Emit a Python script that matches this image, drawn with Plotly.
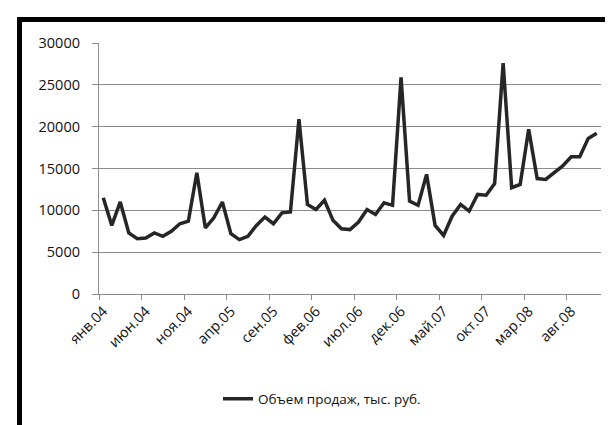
import plotly.graph_objects as go

months = ["янв", "фев", "мар", "апр", "май", "июн", "июл", "авг", "сен", "окт", "ноя", "дек"]
years = ["04", "05", "06", "07", "08"]
categories = [f"{m}.{y}" for y in years for m in months][:59]  # янв.04 .. ноя.08

sales = [
    11500, 8200, 11000, 7300, 6600, 6700, 7300, 6900, 7500, 8400, 8700, 14500,
    7900, 9100, 11000, 7200, 6500, 6900, 8200, 9200, 8400, 9700, 9800, 20900,
    10700, 10100, 11200, 8800, 7800, 7700, 8600, 10100, 9500, 10900, 10600, 25900,
    11100, 10600, 14300, 8200, 7000, 9300, 10700, 9900, 11900, 11800, 13200, 27600,
    12700, 13100, 19700, 13800, 13700, 14500, 15300, 16400, 16400, 18600, 19200,
]
series_name = "Объем продаж, тыс. руб."
y_ticks = [0, 5000, 10000, 15000, 20000, 25000, 30000]
y_tick_labels = [str(v) for v in y_ticks]

W, H = 613, 425
L, R, T, B = 91, 593, 35, 286

def px(x):
    return (x - L) / (R - L)

def py(y):
    return (B - y) / (B - T)

fig = go.Figure()
fig.add_trace(go.Scatter(
    x=categories, y=sales, mode="lines", name=series_name,
    line=dict(color="#262626", width=3.5),
    showlegend=True,
))

font = dict(family="Open Sans, Noto Sans, sans-serif", size=14.5, color="#111111")

fig.update_layout(
    width=W, height=H,
    margin=dict(l=L, r=W - R, t=T, b=H - B, pad=0),
    paper_bgcolor="white", plot_bgcolor="white",
    font=font,
    showlegend=True,
    legend=dict(
        orientation="h", x=px(314), y=py(391), xanchor="center", yanchor="middle",
        font=dict(family="Open Sans, Noto Sans, sans-serif", size=13.5, color="#111111"),
        bgcolor="rgba(0,0,0,0)", itemwidth=30,
    ),
    xaxis=dict(
        type="category", range=[-0.5, 58.5],
        tickmode="linear", tick0=0, dtick=5,
        tickson="boundaries",
        ticks="outside", ticklen=5, tickcolor="#8c8c8c", tickwidth=1,
        showline=True, linecolor="#8c8c8c", linewidth=1.2,
        showgrid=False, tickangle=-45, zeroline=False,
        tickfont=font, ticklabelstandoff=2,
    ),
    yaxis=dict(
        range=[0, 30000], tickvals=y_ticks, ticktext=y_tick_labels,
        ticks="outside", ticklen=6, tickcolor="#8c8c8c", tickwidth=1,
        showline=True, linecolor="#8c8c8c", linewidth=1.2,
        showgrid=True, gridcolor="#8c8c8c", gridwidth=1.2,
        zeroline=False, tickfont=font, ticklabelstandoff=9,
    ),
    shapes=[
        dict(type="rect", xref="paper", yref="paper",
             x0=px(9), x1=px(W + 2), y0=py(14), y1=py(9),
             fillcolor="black", line=dict(width=0), layer="above"),
        dict(type="rect", xref="paper", yref="paper",
             x0=px(9), x1=px(14), y0=py(H + 2), y1=py(9),
             fillcolor="black", line=dict(width=0), layer="above"),
    ],
)

fig.write_html("out.html")
